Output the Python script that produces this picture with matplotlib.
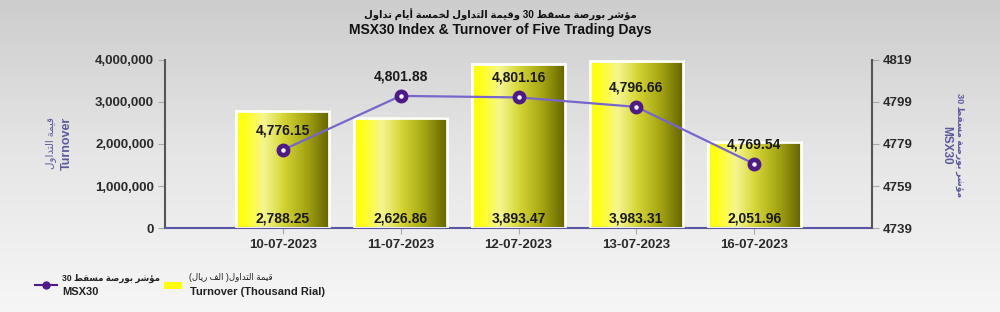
import re
import numpy as np
import matplotlib
matplotlib.use('Agg')
import matplotlib.pyplot as plt
from matplotlib.colors import LinearSegmentedColormap
from matplotlib.patches import Rectangle
from matplotlib.lines import Line2D


dates = ['10-07-2023', '11-07-2023', '12-07-2023', '13-07-2023', '16-07-2023']
turnover = [2788.25, 2626.86, 3893.47, 3983.31, 2051.96]   # thousand rial
msx30 = [4776.15, 4801.88, 4801.16, 4796.66, 4769.54]
left_ticks = [0, 1000000, 2000000, 3000000, 4000000]
right_ticks = [4739, 4759, 4779, 4799, 4819]

title_ar = 'مؤشر بورصة مسقط 30 وقيمة التداول لخمسة أيام تداول'
title_en = 'MSX30 Index & Turnover of Five Trading Days'
turn_ar = 'قيمة التداول'
msx_ar = 'مؤشر بورصة مسقط 30'
leg_turn_ar = 'قيمة التداول( الف ريال)'


# arabic letters -> (isolated, final, initial, medial); None = does not join forward
FORMS = {
    'ا': ('\ufe8d', '\ufe8e', None, None),
    'أ': ('\ufe83', '\ufe84', None, None),
    'ب': ('\ufe8f', '\ufe90', '\ufe91', '\ufe92'),
    'ة': ('\ufe93', '\ufe94', None, None),
    'ت': ('\ufe95', '\ufe96', '\ufe97', '\ufe98'),
    'خ': ('\ufea5', '\ufea6', '\ufea7', '\ufea8'),
    'د': ('\ufea9', '\ufeaa', None, None),
    'ر': ('\ufead', '\ufeae', None, None),
    'س': ('\ufeb1', '\ufeb2', '\ufeb3', '\ufeb4'),
    'ش': ('\ufeb5', '\ufeb6', '\ufeb7', '\ufeb8'),
    'ص': ('\ufeb9', '\ufeba', '\ufebb', '\ufebc'),
    'ط': ('\ufec1', '\ufec2', '\ufec3', '\ufec4'),
    'ف': ('\ufed1', '\ufed2', '\ufed3', '\ufed4'),
    'ق': ('\ufed5', '\ufed6', '\ufed7', '\ufed8'),
    'ل': ('\ufedd', '\ufede', '\ufedf', '\ufee0'),
    'م': ('\ufee1', '\ufee2', '\ufee3', '\ufee4'),
    'و': ('\ufeed', '\ufeee', None, None),
    'ؤ': ('\ufe85', '\ufe86', None, None),
    'ي': ('\ufef1', '\ufef2', '\ufef3', '\ufef4'),
}


def ar(s):
    out = []
    for i, c in enumerate(s):
        if c not in FORMS:
            out.append(c)
            continue
        prev = s[i - 1] if i > 0 else ''
        nxt = s[i + 1] if i + 1 < len(s) else ''
        jp = prev in FORMS and FORMS[prev][2] is not None
        jn = nxt in FORMS and FORMS[c][2] is not None
        iso, fin, ini, med = FORMS[c]
        if jp and jn:
            out.append(med)
        elif jp:
            out.append(fin)
        elif jn:
            out.append(ini)
        else:
            out.append(iso)
    vis = ''.join(out)[::-1]
    vis = re.sub(r'[0-9]+', lambda m: m.group()[::-1], vis)
    return vis.translate(str.maketrans('()', ')('))


FAM = ['Liberation Sans', 'DejaVu Sans']
plt.rcParams['font.family'] = FAM

fig = plt.figure(figsize=(10, 3.12), dpi=100)

# background gradient
bg = fig.add_axes([0, 0, 1, 1], zorder=-10)
grad = np.linspace(0, 1, 256).reshape(-1, 1)
bg_cmap = LinearSegmentedColormap.from_list('bg', ['#cdcdcd', '#e6e6e6', '#f6f6f6'])
bg.imshow(grad, aspect='auto', cmap=bg_cmap, extent=(0, 1, 0, 1), origin='upper')
bg.set_axis_off()

ax = fig.add_axes([0.165, 0.269, 0.707, 0.539])
ax.patch.set_alpha(0)
ax2 = ax.twinx()

x = np.arange(len(dates))
bw = 0.79
bar_cmap = LinearSegmentedColormap.from_list(
    'bar', [(0, '#ffff00'), (0.12, '#ffff25'), (0.3, '#f5f590'), (0.5, '#d6d638'),
            (0.75, '#a5a512'), (1, '#626200')])
hgrad = np.linspace(0, 1, 256).reshape(1, -1)
for xi, v in zip(x, turnover):
    h = v * 1000
    ax.imshow(hgrad, aspect='auto', cmap=bar_cmap, extent=(xi - bw / 2, xi + bw / 2, 0, h),
              zorder=2)
    ax.add_patch(Rectangle((xi - bw / 2, 0), bw, h, facecolor='none', edgecolor='white',
                           linewidth=2, zorder=3))
    ax.text(xi, 70000, f'{v:,.2f}', ha='center', va='bottom', fontsize=10,
            fontweight='bold', color='#1a1a1a', zorder=5)

ax.set_xlim(-1, 5)
ax.set_ylim(0, 4000000)
ax.set_yticks(left_ticks)
ax.set_yticklabels([f'{t:,}' for t in left_ticks])
ax.set_xticks(x)
ax.set_xticklabels(dates)
for lab in ax.get_xticklabels() + ax.get_yticklabels():
    lab.set_fontweight('bold')
    lab.set_fontsize(9.5)
    lab.set_color('#2a2a2a')
ax.tick_params(axis='y', length=5, color='#aaaaaa', pad=3)
ax.tick_params(axis='x', length=4, color='#aaaaaa', pad=4)
for sp in ['top', 'right']:
    ax.spines[sp].set_visible(False)
ax.spines['left'].set_color('#555555')
ax.spines['left'].set_linewidth(1.5)
ax.spines['bottom'].set_color('#5a55a5')
ax.spines['bottom'].set_linewidth(1.5)

ax2.plot(x, msx30, color='#7766cc', linewidth=1.6, zorder=4)
ax2.plot(x, msx30, 'o', markersize=9, markerfacecolor='#4e1a86', markeredgecolor='#4e1a86',
         zorder=5)
ax2.plot(x, msx30, 'o', markersize=2.2, markerfacecolor='white', markeredgecolor='white',
         zorder=6)
for xi, v in zip(x, msx30):
    ax2.annotate(f'{v:,.2f}', (xi, v), xytext=(0, 9), textcoords='offset points',
                 ha='center', va='bottom', fontsize=10, fontweight='bold', color='#1a1a1a',
                 zorder=7)
ax2.set_ylim(4739, 4819)
ax2.set_yticks(right_ticks)
for lab in ax2.get_yticklabels():
    lab.set_fontweight('bold')
    lab.set_fontsize(9.5)
    lab.set_color('#2a2a2a')
ax2.tick_params(axis='y', length=5, color='#aaaaaa', pad=3)
for sp in ['top', 'left', 'bottom']:
    ax2.spines[sp].set_visible(False)
ax2.spines['right'].set_color('#555555')
ax2.spines['right'].set_linewidth(1.5)

# titles
fig.text(0.5, 1 - 15 / 312, ar(title_ar), ha='center', va='center', fontsize=7.2,
         fontweight='bold', color='#111111', family=FAM)
fig.text(0.5, 1 - 30 / 312, title_en, ha='center', va='center', fontsize=10,
         fontweight='bold', color='#111111')

# axis labels
lab_c = '#5c5a9c'
fig.text(51 / 1000, 1 - 143 / 312, ar(turn_ar), rotation=90, ha='center', va='center',
         fontsize=7.4, color=lab_c, family=FAM)
fig.text(67 / 1000, 1 - 143 / 312, 'Turnover', rotation=90, ha='center', va='center',
         fontsize=9, fontweight='bold', color=lab_c)
fig.text(960 / 1000, 1 - 145 / 312, ar(msx_ar), rotation=270, ha='center', va='center',
         fontsize=6.6, fontweight='bold', color=lab_c, family=FAM)
fig.text(946 / 1000, 1 - 145 / 312, 'MSX30', rotation=270, ha='center', va='center',
         fontsize=8.5, fontweight='bold', color=lab_c)

# legend
ly = 1 - 285 / 312
fig.add_artist(Line2D([35 / 1000, 57 / 1000], [ly, ly], color='#4e1a86', linewidth=1.5,
                      transform=fig.transFigure))
fig.add_artist(Line2D([46 / 1000], [ly], marker='o', markersize=5, color='#4e1a86',
                      transform=fig.transFigure))
fig.text(62 / 1000, 1 - 278 / 312, ar(msx_ar), ha='left', va='center', fontsize=6.2,
         fontweight='bold', color='#222222', family=FAM)
fig.text(62 / 1000, 1 - 292 / 312, 'MSX30', ha='left', va='center', fontsize=8,
         fontweight='bold', color='#222222')
fig.add_artist(Rectangle((164 / 1000, 1 - 289 / 312), 18 / 1000, 7 / 312,
                         facecolor='#ffff00', edgecolor='none', transform=fig.transFigure))
fig.text(189 / 1000, 1 - 278 / 312, ar(leg_turn_ar), ha='left', va='center', fontsize=6.2,
         color='#222222', family=FAM)
fig.text(190 / 1000, 1 - 292 / 312, 'Turnover (Thousand Rial)', ha='left', va='center',
         fontsize=8, fontweight='bold', color='#222222')

fig.savefig('out.png', dpi=100)
